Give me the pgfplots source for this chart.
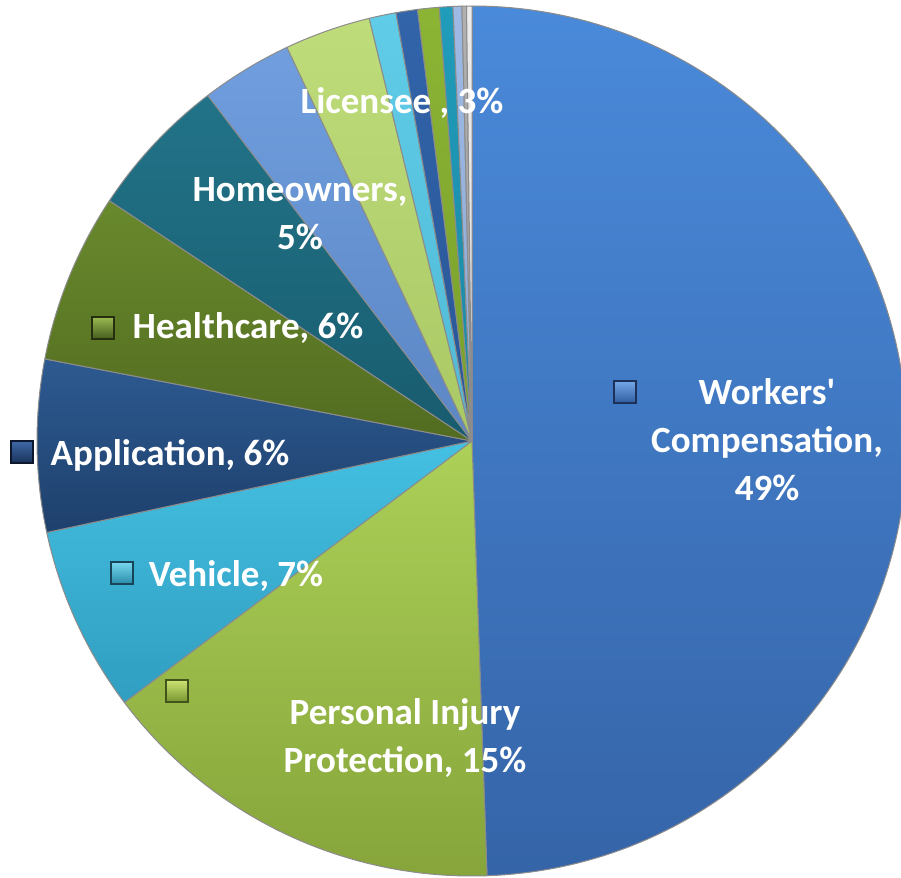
\documentclass[border=0pt]{standalone}
\usepackage{pgfplots}
\usepackage{pgfplotstable}
\pgfplotsset{compat=1.18}
\usepackage{fontspec}
\setmainfont{Carlito}

% slice colours (top / bottom of gradient)
\definecolor{t0}{RGB}{74,138,218}   \definecolor{b0}{RGB}{53,100,168}
\definecolor{t1}{RGB}{172,208,88}   \definecolor{b1}{RGB}{134,164,58}
\definecolor{t2}{RGB}{68,192,226}   \definecolor{b2}{RGB}{48,158,192}
\definecolor{t3}{RGB}{45,90,145}    \definecolor{b3}{RGB}{30,64,108}
\definecolor{t4}{RGB}{105,137,45}   \definecolor{b4}{RGB}{82,108,32}
\definecolor{t5}{RGB}{34,115,136}   \definecolor{b5}{RGB}{24,92,110}
\definecolor{t6}{RGB}{112,158,222}  \definecolor{b6}{RGB}{92,134,196}
\definecolor{t7}{RGB}{190,220,122}  \definecolor{b7}{RGB}{170,200,100}
\definecolor{t8}{RGB}{96,204,232}   \definecolor{b8}{RGB}{80,186,214}
\definecolor{t9}{RGB}{50,100,170}   \definecolor{b9}{RGB}{40,86,150}
\definecolor{t10}{RGB}{140,180,52}  \definecolor{b10}{RGB}{120,160,42}
\definecolor{t11}{RGB}{32,156,186}  \definecolor{b11}{RGB}{26,136,164}
\definecolor{t12}{RGB}{158,186,228} \definecolor{b12}{RGB}{140,170,214}
\definecolor{t13}{RGB}{176,176,176} \definecolor{b13}{RGB}{160,160,160}
\definecolor{t14}{RGB}{236,236,236} \definecolor{b14}{RGB}{226,226,226}
% legend key colours (top, bottom, border)
\definecolor{kt0}{RGB}{115,168,232}\definecolor{kb0}{RGB}{48,92,160}\definecolor{kd0}{RGB}{28,48,88}
\definecolor{kt1}{RGB}{205,228,115}\definecolor{kb1}{RGB}{118,148,48}\definecolor{kd1}{RGB}{66,84,28}
\definecolor{kt2}{RGB}{120,215,238}\definecolor{kb2}{RGB}{40,140,170}\definecolor{kd2}{RGB}{24,68,88}
\definecolor{kt3}{RGB}{62,104,165}\definecolor{kb3}{RGB}{25,50,90}\definecolor{kd3}{RGB}{14,24,44}
\definecolor{kt4}{RGB}{155,185,82}\definecolor{kb4}{RGB}{68,92,28}\definecolor{kd4}{RGB}{38,48,14}

% slices, clockwise from 12 o'clock
\pgfplotstableread{
label value
Workers 49.5
PIP 15.3
Vehicle 6.9
Application 6.4
Healthcare 6.3
Homeowners 5.3
Other1 3.4
Licensee 3.2
Other2 1.0
Other3 0.8
Other4 0.8
Other5 0.5
Other6 0.33
Other7 0.17
Other8 0.2
}\piedata

\xdef\tot{0}
\pgfplotstableforeachcolumnelement{value}\of\piedata\as\v{%
  \pgfmathparse{\tot+\v}\xdef\tot{\pgfmathresult}}
\xdef\cum{0}
\pgfplotstableforeachcolumnelement{value}\of\piedata\as\v{%
  \pgfmathparse{90-(\cum/\tot)*360}%
  \expandafter\xdef\csname sa\pgfplotstablerow\endcsname{\pgfmathresult}%
  \pgfmathparse{\cum+\v}\xdef\cum{\pgfmathresult}%
  \pgfmathparse{90-(\cum/\tot)*360}%
  \expandafter\xdef\csname ea\pgfplotstablerow\endcsname{\pgfmathresult}}

\begin{document}
\begin{tikzpicture}
\begin{axis}[
  width=450.5pt, height=439pt, scale only axis,
  xmin=0, xmax=901, ymin=0, ymax=878, y dir=reverse,
  hide axis, clip mode=global,
]
\pgfplotsinvokeforeach{0,...,14}{
  \shade[top color=t#1, bottom color=b#1]
    (axis cs:472,441) -- ++(\csname sa#1\endcsname:217.5pt)
    arc[start angle=\csname sa#1\endcsname, end angle=\csname ea#1\endcsname, radius=217.5pt] -- cycle;
  \draw[black!45, line width=0.5pt, line join=round]
    (axis cs:472,441) -- ++(\csname sa#1\endcsname:217.5pt)
    arc[start angle=\csname sa#1\endcsname, end angle=\csname ea#1\endcsname, radius=217.5pt] -- cycle;
}
\coordinate (BBa) at (rel axis cs:0,0);
\coordinate (BBb) at (rel axis cs:1,1);
% legend keys beside labels
\pgfplotsinvokeforeach{0/625/392, 1/177/691, 2/122/573, 3/22/452, 4/103/328}{}
\shade[top color=kt0, bottom color=kb0, draw=kd0, line width=0.7pt] (axis cs:614,381) rectangle (axis cs:636,403);
\shade[top color=kt1, bottom color=kb1, draw=kd1, line width=0.7pt] (axis cs:166,680) rectangle (axis cs:188,702);
\shade[top color=kt2, bottom color=kb2, draw=kd2, line width=0.7pt] (axis cs:111,562) rectangle (axis cs:133,584);
\shade[top color=kt3, bottom color=kb3, draw=kd3, line width=0.7pt] (axis cs:11,441) rectangle (axis cs:33,463);
\shade[top color=kt4, bottom color=kb4, draw=kd4, line width=0.7pt] (axis cs:92,317) rectangle (axis cs:114,339);
% labels
\tikzset{lab/.style={text=white, font=\bfseries\fontsize{18.5}{24}\selectfont, align=center, inner sep=0pt}}
\node[lab] at (axis cs:767,440) {Workers\textquotesingle\\Compensation,\\49\%};
\node[lab] at (axis cs:405,738) {Personal Injury\\Protection, 15\%};
\node[lab] at (axis cs:236,576) {Vehicle, 7\%};
\node[lab] at (axis cs:170,455) {Application, 6\%};
\node[lab] at (axis cs:248,328) {Healthcare, 6\%};
\node[lab] at (axis cs:300,214) {Homeowners,\\5\%};
\node[lab] at (axis cs:402,103) {Licensee , 3\%};
\end{axis}
\pgfresetboundingbox
\useasboundingbox (BBa) rectangle (BBb);
\end{tikzpicture}
\end{document}
